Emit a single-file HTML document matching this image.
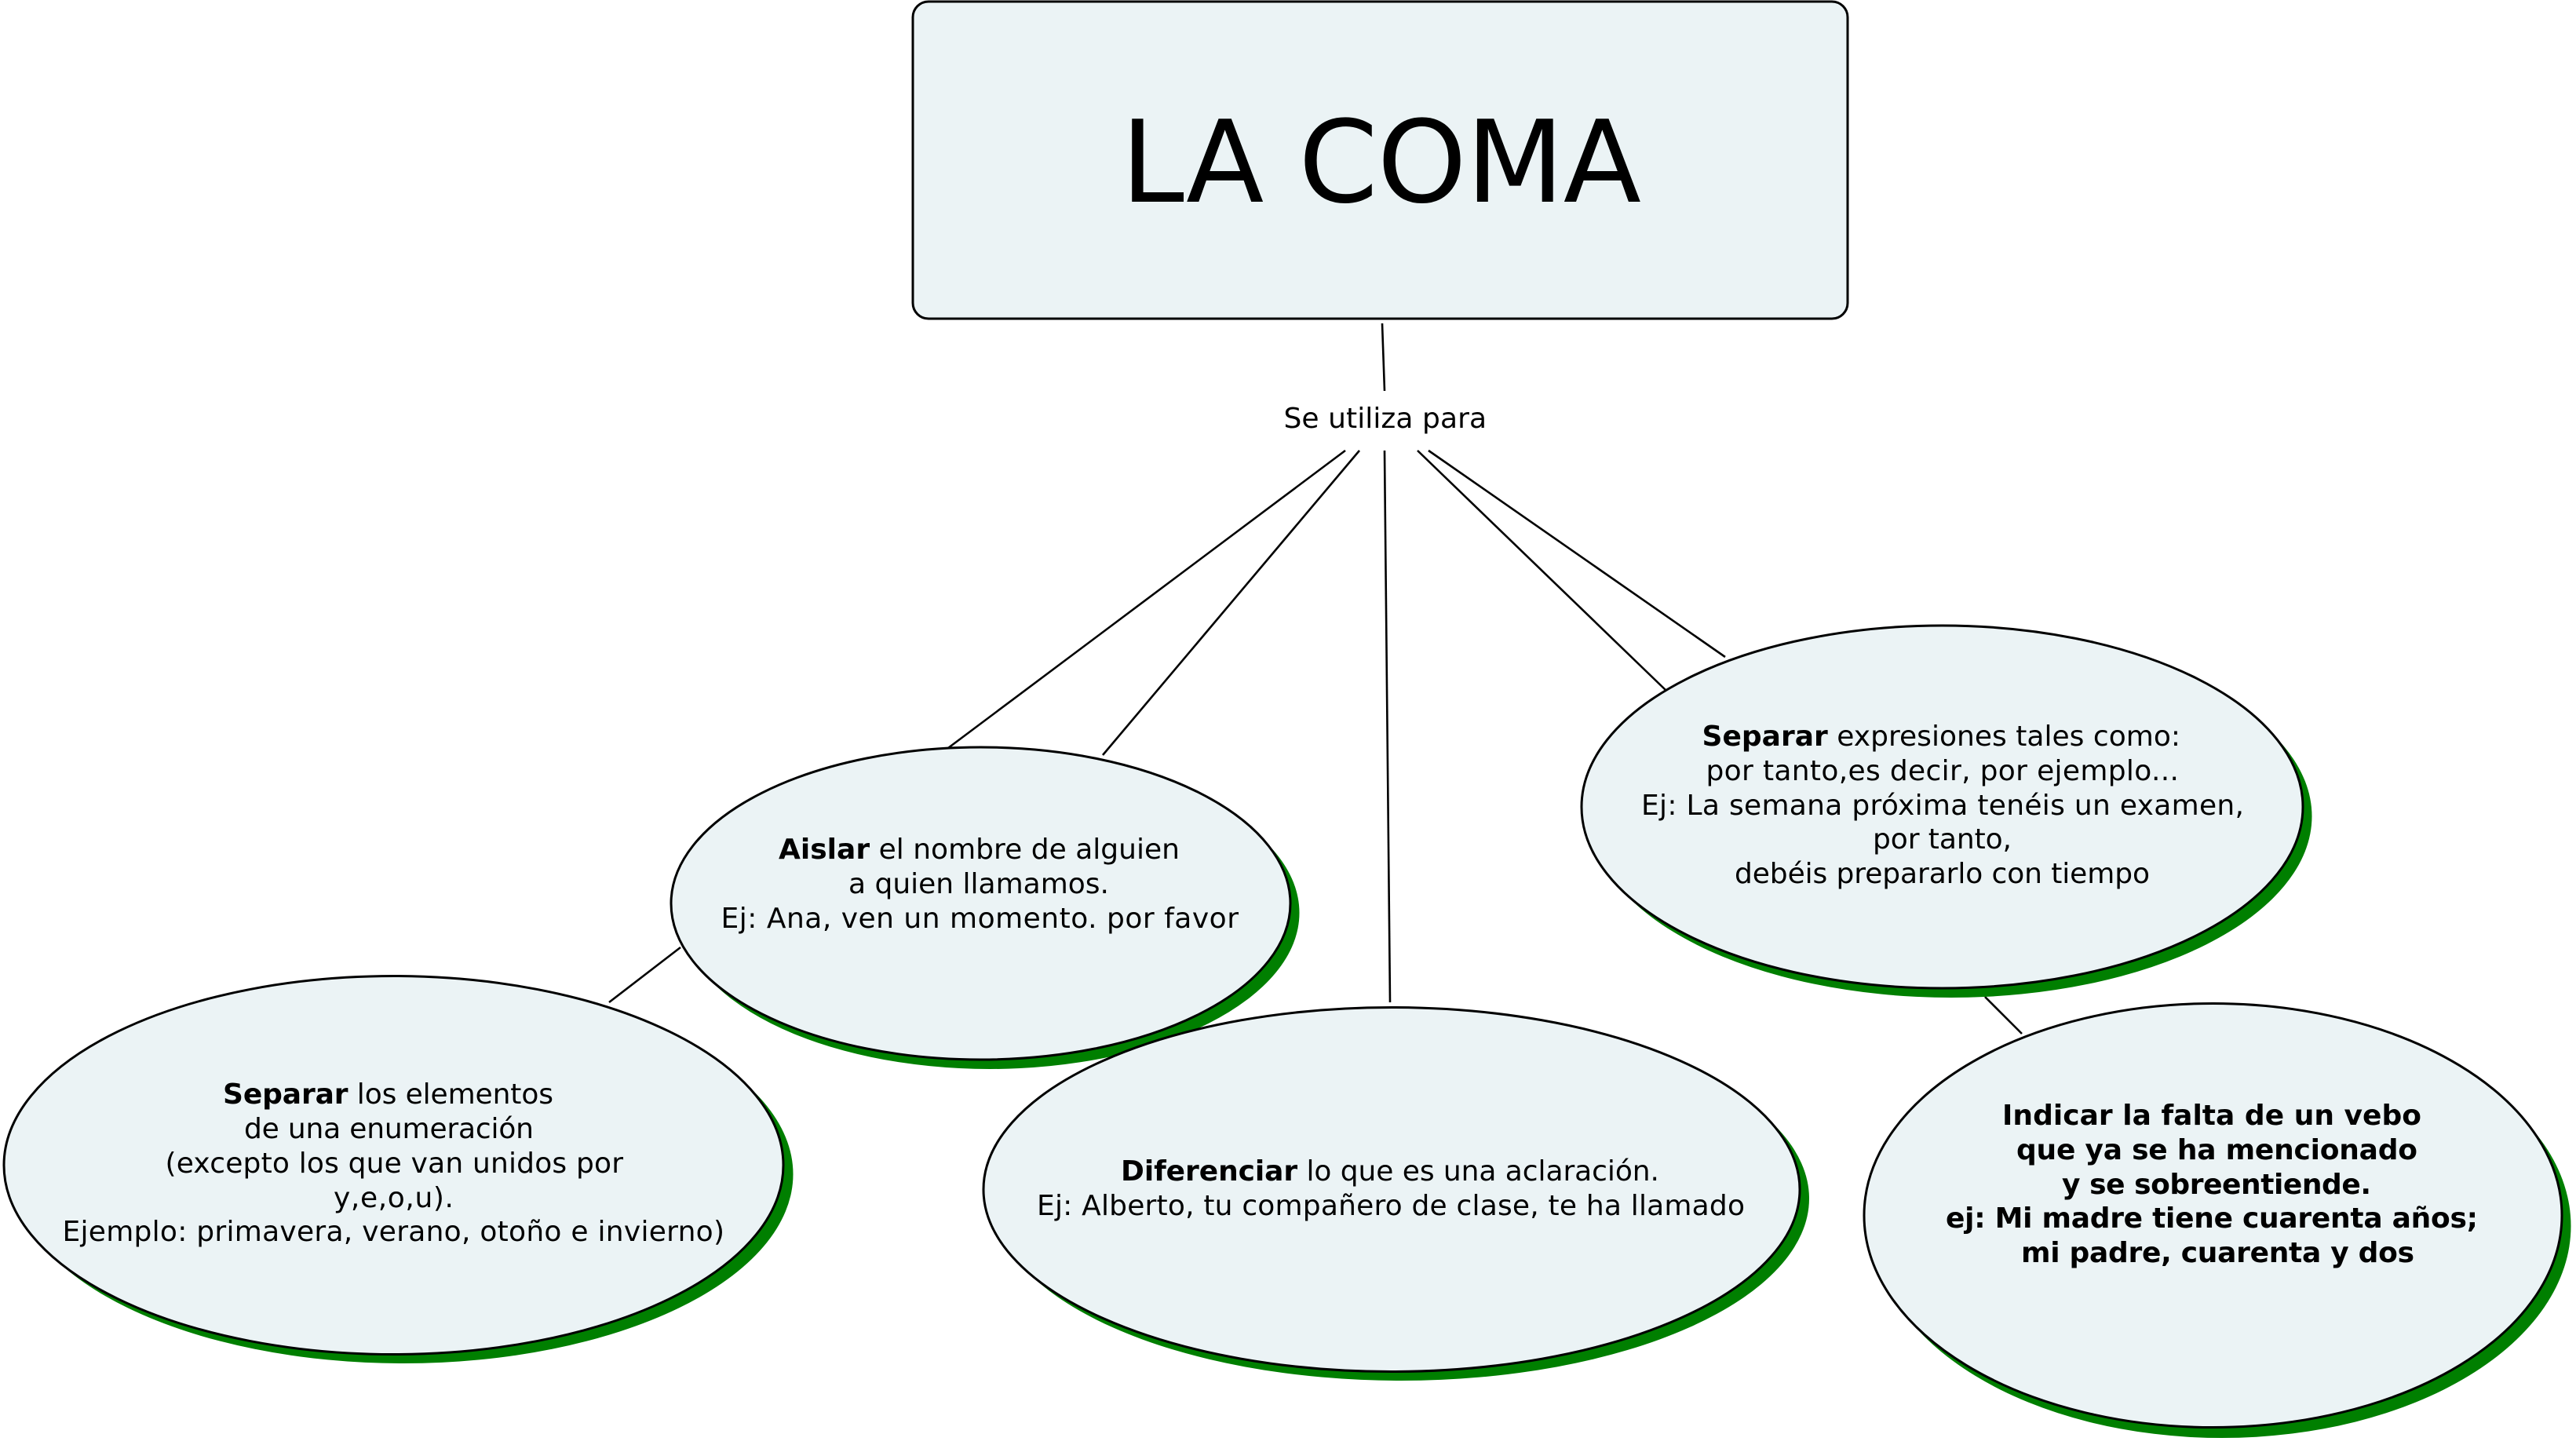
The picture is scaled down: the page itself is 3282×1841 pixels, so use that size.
<!DOCTYPE html>
<html lang="es">
<head>
<meta charset="utf-8">
<title>La coma</title>
<style>
html,body{margin:0;padding:0;background:#fff;width:3282px;height:1841px;overflow:hidden}
svg{display:block}
text{font-family:"DejaVu Sans","Liberation Sans",sans-serif;font-size:36px;fill:#000}
.b{font-weight:bold}
line{stroke:#000;stroke-width:2.6}
.s{fill:#007f00;stroke:none}
.e{fill:#ebf3f5;stroke:#000;stroke-width:3}
</style>
</head>
<body>
<svg xmlns="http://www.w3.org/2000/svg" width="3282" height="1841" viewBox="0 0 3282 1841">
<rect width="3282" height="1841" fill="#fff"/>

<line x1="1761" y1="412" x2="1764" y2="498"/>
<line x1="1714" y1="574" x2="1208" y2="953"/>
<line x1="1732" y1="574" x2="1405" y2="962"/>
<line x1="1764" y1="574" x2="1771" y2="1277"/>
<line x1="1806" y1="574" x2="2122" y2="879"/>
<line x1="1820" y1="574" x2="2198" y2="837"/>
<line x1="867" y1="1207" x2="776" y2="1277"/>
<line x1="2529" y1="1270" x2="2576" y2="1317"/>

<rect x="1163" y="2" width="1191" height="404" rx="20" ry="20" class="e"/>
<text x="1428" y="257" style="font-size:145px" textLength="663">LA COMA</text>
<text x="1635.5" y="545" textLength="258.5">Se utiliza para</text>

<!-- Aislar -->
<ellipse cx="1261" cy="1163" rx="394.5" ry="199" class="s"/>
<ellipse cx="1249.5" cy="1151" rx="394.5" ry="199" class="e"/>
<text x="992" y="1094" textLength="511"><tspan class="b">Aislar</tspan> el nombre de alguien</text>
<text x="1081" y="1138" textLength="332">a quien llamamos.</text>
<text x="918.5" y="1182" textLength="659.5">Ej: Ana, ven un momento. por favor</text>

<!-- Separar 1 -->
<ellipse cx="514" cy="1496" rx="496.5" ry="241" class="s"/>
<ellipse cx="501.5" cy="1484.5" rx="496.5" ry="241" class="e"/>
<text x="284" y="1406" textLength="421"><tspan class="b">Separar</tspan> los elementos</text>
<text x="311" y="1450" textLength="369">de una enumeración</text>
<text x="210.5" y="1494" textLength="583.5">(excepto los que van unidos por</text>
<text x="425" y="1538" textLength="153">y,e,o,u).</text>
<text x="79.5" y="1581" textLength="843.5">Ejemplo: primavera, verano, otoño e invierno)</text>

<!-- Diferenciar -->
<ellipse cx="1785" cy="1527" rx="520" ry="232" class="s"/>
<ellipse cx="1773" cy="1515.5" rx="520" ry="232" class="e"/>
<text x="1428" y="1504" textLength="686"><tspan class="b">Diferenciar</tspan> lo que es una aclaración.</text>
<text x="1321" y="1548" textLength="902">Ej: Alberto, tu compañero de clase, te ha llamado</text>

<!-- Separar 2 -->
<ellipse cx="2486" cy="1040" rx="459.5" ry="231" class="s"/>
<ellipse cx="2474.5" cy="1028" rx="459.5" ry="231" class="e"/>
<text x="2168.5" y="950" textLength="609.5"><tspan class="b">Separar</tspan> expresiones tales como:</text>
<text x="2173.5" y="994" textLength="602.5">por tanto,es decir, por ejemplo...</text>
<text x="2091" y="1038" textLength="768">Ej: La semana próxima tenéis un examen,</text>
<text x="2386" y="1081" textLength="177">por tanto,</text>
<text x="2210" y="1125" textLength="529">debéis prepararlo con tiempo</text>

<!-- Indicar -->
<ellipse cx="2831" cy="1562" rx="444.5" ry="270" class="s"/>
<ellipse cx="2819.5" cy="1548.5" rx="444.5" ry="270" class="e"/>
<text class="b" x="2551" y="1433" textLength="534">Indicar la falta de un vebo</text>
<text class="b" x="2569" y="1477" textLength="511">que ya se ha mencionado</text>
<text class="b" x="2627" y="1521" textLength="394">y se sobreentiende.</text>
<text class="b" x="2479" y="1564" textLength="678">ej: Mi madre tiene cuarenta años;</text>
<text class="b" x="2575" y="1608" textLength="501">mi padre, cuarenta y dos</text>
</svg>
</body>
</html>
